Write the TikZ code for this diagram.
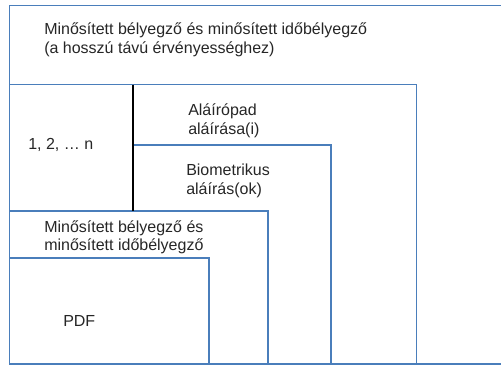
\documentclass[tikz,border=0pt]{standalone}
\usepackage{fontspec}
\setmainfont{Liberation Sans}
\definecolor{frameblue}{HTML}{4A7EBB}
\begin{document}
\begin{tikzpicture}[x=0.75pt,y=-0.75pt,
  frame/.style={draw=frameblue,line width=1pt},
  divider/.style={draw=black,line width=1pt},
  lbl/.style={anchor=base west,inner sep=0pt,font=\fontsize{12}{14}\selectfont,text=black!85}]
\useasboundingbox (0,0) rectangle (501,365);
% nested layers, each open on the right side of the one that holds it
\draw[frame] (510,5.5) -- (9.5,5.5) -- (9.5,364) -- (510,364);
\draw[frame] (9.5,84.5) -- (416.5,84.5) -- (416.5,364);
\draw[frame] (133,145) -- (331,145) -- (331,364);
\draw[frame] (9.5,211) -- (268,211) -- (268,364);
\draw[frame] (9.5,258) -- (209,258) -- (209,364);
\coordinate (dtop) at (133,84.5);
\coordinate (dbot) at (133,211);
\draw[divider] (dtop) -- (dbot);
% captions, one node per line, placed on their baselines
\node[lbl] (ltopa) at (44,34) {Minősített bélyegző és minősített időbélyegző};
\node[lbl] (ltopb) at (44,53) {(a hosszú távú érvényességhez)};
\node[lbl] (lnum) at (28,149) {1, 2, … n};
\node[lbl] (lpada) at (188,115) {Aláírópad};
\node[lbl] (lpadb) at (188,134) {aláírása(i)};
\node[lbl] (lbioa) at (186,175) {Biometrikus};
\node[lbl] (lbiob) at (186,194) {aláírás(ok)};
\node[lbl] (lina) at (44,232) {Minősített bélyegző és};
\node[lbl] (linb) at (44,250) {minősített időbélyegző};
\node[lbl] (lpdf) at (63,326) {PDF};
\end{tikzpicture}
\end{document}
